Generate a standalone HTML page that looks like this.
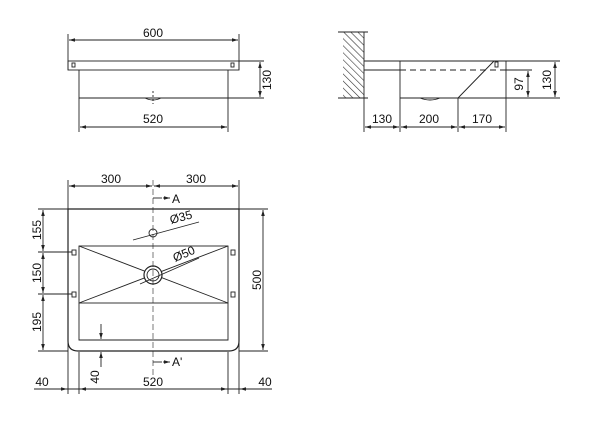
<!DOCTYPE html>
<html><head><style>body{margin:0;background:#fff}svg{display:block}text{font-family:"Liberation Sans",sans-serif;font-size:12px;fill:#111}</style></head><body>
<svg width="600" height="432" viewBox="0 0 600 432" xmlns="http://www.w3.org/2000/svg">
<defs>
<marker id="a" viewBox="0 0 10 6" refX="10" refY="3" markerWidth="8" markerHeight="4" orient="auto-start-reverse"><path d="M0,0L10,3L0,6z" fill="#222"/></marker>
<pattern id="h" width="5" height="5" patternUnits="userSpaceOnUse" patternTransform="rotate(-45)"><line x1="0" y1="0" x2="0" y2="5" stroke="#333" stroke-width="1.2"/></pattern>
</defs>
<g stroke="#222" fill="none" stroke-width="0.9">
<!-- top view -->
<line x1="68" y1="34" x2="68" y2="70"/><line x1="239" y1="34" x2="239" y2="70"/>
<line x1="69" y1="40" x2="238" y2="40" marker-start="url(#a)" marker-end="url(#a)"/>
<rect x="68" y="61" width="171" height="9"/>
<polyline points="79,70 79,98 228,98 228,70" />
<rect x="72" y="63" width="3" height="4"/><rect x="231" y="63" width="3" height="4"/>
<path d="M145,98 Q153,102 161,98"/>
<line x1="153" y1="91" x2="153" y2="104" stroke-dasharray="2,2"/>
<line x1="239" y1="61" x2="264" y2="61"/><line x1="228" y1="98" x2="264" y2="98"/>
<line x1="260" y1="62" x2="260" y2="97" marker-start="url(#a)" marker-end="url(#a)"/>
<line x1="79" y1="98" x2="79" y2="132"/><line x1="228" y1="98" x2="228" y2="132"/>
<line x1="80" y1="127" x2="227" y2="127" marker-start="url(#a)" marker-end="url(#a)"/>
<!-- side view -->
<rect x="343" y="32" width="21" height="66" fill="url(#h)" stroke="none"/>
<line x1="364" y1="32" x2="364" y2="132"/>
<line x1="338" y1="32" x2="368" y2="32"/><line x1="338" y1="98" x2="368" y2="98"/>
<line x1="364" y1="61" x2="506" y2="61"/><line x1="364" y1="70" x2="400" y2="70"/>
<line x1="400" y1="61" x2="400" y2="132"/>
<line x1="400" y1="98" x2="458" y2="98"/><line x1="458" y1="98" x2="494" y2="61"/>
<line x1="458" y1="98" x2="458" y2="132"/>
<line x1="506" y1="61" x2="506" y2="132"/>
<line x1="400" y1="70" x2="506" y2="70" stroke-dasharray="6,4"/>
<rect x="495" y="62" width="3" height="5"/>
<path d="M420,98 Q430,102 440,98"/>
<line x1="506" y1="61" x2="560" y2="61"/><line x1="506" y1="70" x2="532" y2="70"/><line x1="458" y1="98" x2="560" y2="98"/>
<line x1="528" y1="71" x2="528" y2="97" marker-start="url(#a)" marker-end="url(#a)"/>
<line x1="555" y1="62" x2="555" y2="97" marker-start="url(#a)" marker-end="url(#a)"/>
<line x1="365" y1="127" x2="399" y2="127" marker-start="url(#a)" marker-end="url(#a)"/>
<line x1="401" y1="127" x2="457" y2="127" marker-start="url(#a)" marker-end="url(#a)"/>
<line x1="459" y1="127" x2="505" y2="127" marker-start="url(#a)" marker-end="url(#a)"/>
<!-- plan view -->
<path d="M68,209 L239,209 L239,341 Q239,351 229,351 L78,351 Q68,351 68,341 Z" stroke-width="1.2"/>
<rect x="79" y="246" width="149" height="57"/>
<polyline points="79,303 79,340 228,340 228,303"/>
<line x1="79" y1="246" x2="228" y2="303"/><line x1="228" y1="246" x2="79" y2="303"/>
<circle cx="153" cy="275" r="9" fill="#fff" stroke-width="1.2"/><circle cx="153" cy="275" r="6"/>
<circle cx="153" cy="233" r="4"/>
<line x1="153" y1="180" x2="153" y2="378" stroke-dasharray="6,3" stroke-width="0.6"/>
<line x1="153" y1="198" x2="162" y2="198"/><line x1="153" y1="362" x2="162" y2="362"/>
<line x1="163" y1="198" x2="170" y2="198" marker-end="url(#a)"/><line x1="163" y1="362" x2="170" y2="362" marker-end="url(#a)"/>
<line x1="133" y1="240" x2="199" y2="222"/>
<line x1="140" y1="284" x2="199" y2="258"/>
<rect x="72" y="250" width="4" height="5"/><rect x="72" y="292" width="4" height="5"/>
<rect x="231" y="250" width="4" height="5"/><rect x="231" y="292" width="4" height="5"/>
<line x1="68" y1="180" x2="68" y2="394"/><line x1="239" y1="180" x2="239" y2="394"/>
<line x1="79" y1="352" x2="79" y2="394"/><line x1="228" y1="352" x2="228" y2="394"/>
<line x1="69" y1="186" x2="152" y2="186" marker-start="url(#a)" marker-end="url(#a)"/>
<line x1="154" y1="186" x2="238" y2="186" marker-start="url(#a)" marker-end="url(#a)"/>
<line x1="38" y1="209" x2="68" y2="209"/><line x1="38" y1="252" x2="72" y2="252"/><line x1="38" y1="294" x2="72" y2="294"/><line x1="38" y1="351" x2="68" y2="351"/>
<line x1="43" y1="210" x2="43" y2="251" marker-start="url(#a)" marker-end="url(#a)"/>
<line x1="43" y1="253" x2="43" y2="293" marker-start="url(#a)" marker-end="url(#a)"/>
<line x1="43" y1="295" x2="43" y2="350" marker-start="url(#a)" marker-end="url(#a)"/>
<line x1="239" y1="209" x2="268" y2="209"/><line x1="239" y1="351" x2="268" y2="351"/>
<line x1="263" y1="210" x2="263" y2="350" marker-start="url(#a)" marker-end="url(#a)"/>
<line x1="101" y1="324" x2="101" y2="339" marker-end="url(#a)"/>
<line x1="101" y1="367" x2="101" y2="352" marker-end="url(#a)"/>
<line x1="34" y1="389" x2="272" y2="389"/>
<line x1="58" y1="389" x2="67" y2="389" marker-end="url(#a)"/><line x1="90" y1="389" x2="80" y2="389" marker-end="url(#a)"/>
<line x1="217" y1="389" x2="227" y2="389" marker-end="url(#a)"/><line x1="250" y1="389" x2="240" y2="389" marker-end="url(#a)"/>
</g>
<text x="153" y="37" text-anchor="middle">600</text>
<text x="153" y="123" text-anchor="middle">520</text>
<text transform="translate(271,80) rotate(-90)" text-anchor="middle">130</text>
<text x="382" y="123" text-anchor="middle">130</text>
<text x="429" y="123" text-anchor="middle">200</text>
<text x="482" y="123" text-anchor="middle">170</text>
<text transform="translate(523,84) rotate(-90)" text-anchor="middle">97</text>
<text transform="translate(551,80) rotate(-90)" text-anchor="middle">130</text>
<text x="111" y="183" text-anchor="middle">300</text>
<text x="196" y="183" text-anchor="middle">300</text>
<text x="172" y="203">A</text>
<text x="172" y="366">A'</text>
<text transform="translate(171,224) rotate(-15)">Ø35</text>
<text transform="translate(175,262) rotate(-23)">Ø50</text>
<text transform="translate(41,230) rotate(-90)" text-anchor="middle">155</text>
<text transform="translate(41,273) rotate(-90)" text-anchor="middle">150</text>
<text transform="translate(41,322) rotate(-90)" text-anchor="middle">195</text>
<text transform="translate(261,280) rotate(-90)" text-anchor="middle">500</text>
<text transform="translate(99,377) rotate(-90)" text-anchor="middle">40</text>
<text x="42" y="386" text-anchor="middle">40</text>
<text x="153" y="386" text-anchor="middle">520</text>
<text x="265" y="386" text-anchor="middle">40</text>
</svg>
</body></html>
